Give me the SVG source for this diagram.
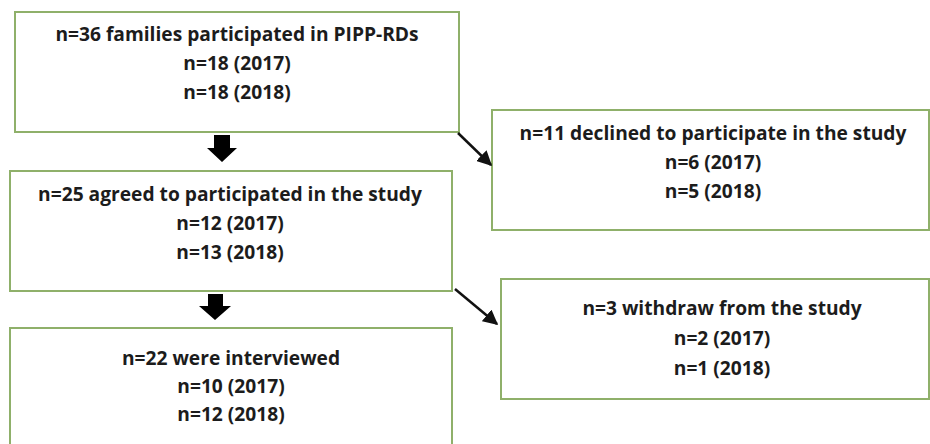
<svg xmlns="http://www.w3.org/2000/svg" width="930" height="444" viewBox="0 0 930 444">
<defs>
<style>
.box{fill:#ffffff;stroke:#8fb06a;stroke-width:2}
.t{font-family:"Open Sans",Lato,"Liberation Sans",sans-serif;font-weight:bold;font-size:19.2px;fill:#1c1c1c;text-anchor:middle}
.ln{stroke:#111;stroke-width:2.5;fill:none}
.blk{fill:#000}
</style>
<marker id="ah" viewBox="0 0 10 10" refX="9" refY="5" markerWidth="6" markerHeight="6" orient="auto" markerUnits="strokeWidth">
<path d="M0,0 L10,5 L0,10 z" fill="#111"/>
</marker>
</defs>
<rect width="930" height="444" fill="#ffffff"/>
<g id="node-families">
<rect class="box" x="15" y="12" width="444" height="120"/>
<text class="t" x="237" y="41">n=36 families participated in PIPP-RDs</text>
<text class="t" x="237" y="70">n=18 (2017)</text>
<text class="t" x="237" y="99">n=18 (2018)</text>
</g>
<g id="node-declined">
<rect class="box" x="492" y="110" width="437" height="120"/>
<text class="t" x="713" y="140">n=11 declined to participate in the study</text>
<text class="t" x="713" y="169">n=6 (2017)</text>
<text class="t" x="713" y="198">n=5 (2018)</text>
</g>
<g id="node-agreed">
<rect class="box" x="10" y="171" width="442" height="120"/>
<text class="t" x="230" y="201">n=25 agreed to participated in the study</text>
<text class="t" x="230" y="230">n=12 (2017)</text>
<text class="t" x="230" y="259">n=13 (2018)</text>
</g>
<g id="node-withdraw">
<rect class="box" x="501" y="279" width="428" height="120"/>
<text class="t" x="722" y="315">n=3 withdraw from the study</text>
<text class="t" x="722" y="345">n=2 (2017)</text>
<text class="t" x="722" y="375">n=1 (2018)</text>
</g>
<g id="node-interviewed">
<rect class="box" x="10" y="328" width="442" height="122"/>
<text class="t" x="231" y="365">n=22 were interviewed</text>
<text class="t" x="231" y="393">n=10 (2017)</text>
<text class="t" x="231" y="421">n=12 (2018)</text>
</g>
<g id="connectors">
<path class="blk" d="M214,135 H230 V148 H237 L222,162 L207,148 H214 Z"/>
<path class="blk" d="M208,294 H223 V306 H231 L215,320 L199,306 H208 Z"/>
<line class="ln" x1="458" y1="133" x2="491" y2="165" marker-end="url(#ah)"/>
<line class="ln" x1="455" y1="289" x2="497" y2="324" marker-end="url(#ah)"/>
</g>
</svg>
